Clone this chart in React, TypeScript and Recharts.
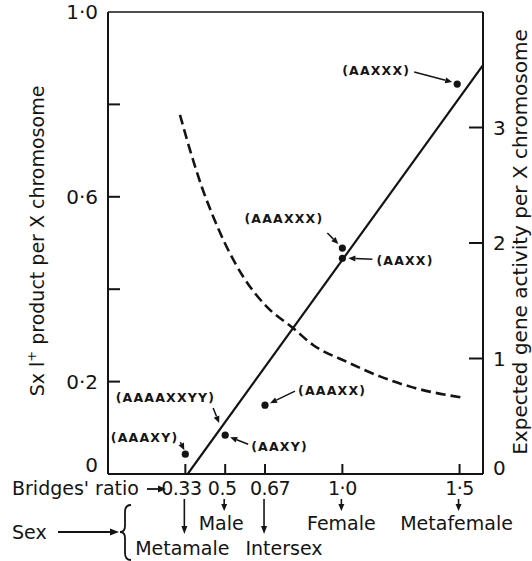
import React from 'react';
import { ComposedChart, Line, Scatter, XAxis, YAxis, ReferenceLine } from 'recharts';

// ---- data ----
const ratioTicks = [0.33, 0.5, 0.67, 1.0, 1.5];
const ratioLabels = ['0.33', '0.5', '0.67', '1·0', '1·5'];
const sexLabels = ['Metamale', 'Male', 'Intersex', 'Female', 'Metafemale'];

const leftTicks = [0, 0.2, 0.4, 0.6, 0.8, 1.0];
const leftTickLabels = ['0', '0·2', '', '0·6', '', '1·0'];
const rightTicks = [0, 1, 2, 3];
const rightTickLabels = ['0', '1', '2', '3'];

const solidRatio = [0.34, 1.6];
const solidProduct = [0, 0.885];

const dashedRatio = [0.307, 0.35, 0.4, 0.449, 0.506, 0.577, 0.677, 0.791, 0.875, 1.02, 1.16, 1.3, 1.515];
const dashedActivity = [3.11, 2.805, 2.487, 2.228, 1.968, 1.708, 1.449, 1.261, 1.117, 0.97, 0.845, 0.75, 0.66];

const genotypes = ['(AAXXX)', '(AAAXXX)', '(AAXX)', '(AAAXX)', '(AAAAXXYY)', '(AAXY)', '(AAAXY)'];
const genotypeRatio = [1.49, 1.0, 1.0, 0.67, 0.47, 0.5, 0.33];
const genotypeProduct = [0.844, 0.489, 0.467, 0.149, 0.106, 0.084, 0.043];

// ---- layout / style ----
const INK = '#141414';
const FONT = '"DejaVu Sans", "Liberation Sans", sans-serif';

type Ann = { anchor: 'start' | 'end'; lx: number; ly: number; tail: [number, number]; head: [number, number]; dot: boolean };
const annLayout: Record<string, Ann> = {
  '(AAXXX)': { anchor: 'end', lx: -47, ly: -14, tail: [-43, -12], head: [-5, -2], dot: true },
  '(AAAXXX)': { anchor: 'end', lx: -19, ly: -30, tail: [-15, -15], head: [-4, -4], dot: true },
  '(AAXX)': { anchor: 'start', lx: 34, ly: 2, tail: [30, 1], head: [6, 0], dot: true },
  '(AAAXX)': { anchor: 'start', lx: 33, ly: -15, tail: [30, -14], head: [5, -2], dot: true },
  '(AAAAXXYY)': { anchor: 'end', lx: -3, ly: -28, tail: [-5, -17], head: [1, -2], dot: false },
  '(AAXY)': { anchor: 'start', lx: 26, ly: 11, tail: [23, 9], head: [5, 2], dot: true },
  '(AAAXY)': { anchor: 'end', lx: -7, ly: -17, tail: [-5, -12], head: [-1, -4], dot: true },
};
const ratioDx = [-4, -3, 5, 0, 0];
const sexDx = [-3, -4, 19, -1, -3];

const solidData = solidRatio.map((r, i) => ({ r, v: solidProduct[i] }));
const dashedData = dashedRatio.map((r, i) => ({ r, a: dashedActivity[i] }));
const pointData = genotypes.map((g, i) => ({ g, r: genotypeRatio[i], v: genotypeProduct[i] }));

const Arrow = ({ x1, y1, x2, y2, head = 7, w = 3, sw = 1.6 }: any) => {
  const dx = x2 - x1;
  const dy = y2 - y1;
  const len = Math.sqrt(dx * dx + dy * dy) || 1;
  const ux = dx / len;
  const uy = dy / len;
  const bx = x2 - ux * head;
  const by = y2 - uy * head;
  const px = -uy * w;
  const py = ux * w;
  return (
    <g>
      <line x1={x1} y1={y1} x2={bx} y2={by} stroke={INK} strokeWidth={sw} />
      <polygon points={`${x2},${y2} ${bx + px},${by + py} ${bx - px},${by - py}`} fill={INK} />
    </g>
  );
};

const RatioTick = (props: any) => {
  const { x, y, payload } = props;
  const i = ratioTicks.indexOf(payload.value);
  if (i < 0) return null;
  const long = i === 0 || i === 2;
  return (
    <g>
      <line x1={x} y1={y} x2={x} y2={y - 10} stroke={INK} strokeWidth={2} />
      <text x={x + ratioDx[i]} y={y + 21} textAnchor="middle" fontSize={19} letterSpacing={-0.5} fontFamily={FONT} fill={INK}>
        {ratioLabels[i]}
      </text>
      <Arrow x1={x - 1} y1={y + 25} x2={x - 1} y2={long ? y + 60 : y + 37} head={long ? 8 : 7} />
      <text x={x + sexDx[i]} y={long ? y + 81 : y + 56} textAnchor="middle" fontSize={19} fontFamily={FONT} fill={INK}>
        {sexLabels[i]}
      </text>
    </g>
  );
};

const LeftTick = (props: any) => {
  const { x, y, payload } = props;
  const i = leftTicks.indexOf(payload.value);
  if (i < 0) return null;
  return (
    <g>
      {payload.value > 0 && payload.value < 1 && (
        <line x1={x} y1={y} x2={x + 12} y2={y} stroke={INK} strokeWidth={2} />
      )}
      <text x={x - 10} y={payload.value === 0 ? y - 2 : y + 7} textAnchor="end" fontSize={20} fontFamily={FONT} fill={INK}>
        {leftTickLabels[i]}
      </text>
    </g>
  );
};

const RightTick = (props: any) => {
  const { x, y, payload } = props;
  const i = rightTicks.indexOf(payload.value);
  if (i < 0) return null;
  return (
    <g>
      {payload.value > 0 && <line x1={x} y1={y} x2={x - 14} y2={y} stroke={INK} strokeWidth={2} />}
      <text x={x + 10} y={payload.value === 0 ? y + 1 : y + 7} textAnchor="start" fontSize={20} fontFamily={FONT} fill={INK}>
        {rightTickLabels[i]}
      </text>
    </g>
  );
};

const AnnotatedPoint = (props: any) => {
  const { cx, cy, payload } = props;
  const L = annLayout[payload.g];
  if (!L) return null;
  return (
    <g>
      {L.dot && <circle cx={cx} cy={cy} r={3.6} fill={INK} />}
      <Arrow x1={cx + L.tail[0]} y1={cy + L.tail[1]} x2={cx + L.head[0]} y2={cy + L.head[1]} head={7} w={3} sw={1.5} />
      <text
        x={cx + L.lx}
        y={cy + L.ly}
        textAnchor={L.anchor}
        dominantBaseline="central"
        fontSize={12.5}
        fontWeight="bold"
        letterSpacing={1.2}
        fontFamily={FONT}
        fill={INK}
      >
        {payload.g}
      </text>
    </g>
  );
};

export default function App() {
  return (
    <div style={{ position: 'absolute', left: 0, top: 0, width: 532, height: 561, background: '#fff' }}>
      <ComposedChart width={532} height={561} margin={{ top: 12, right: 8, bottom: 7, left: 8 }}>
        <XAxis
          type="number"
          dataKey="r"
          domain={[0, 1.6]}
          ticks={ratioTicks}
          interval={0}
          tick={<RatioTick />}
          tickLine={false}
          tickSize={0}
          tickMargin={0}
          height={80}
          axisLine={{ stroke: INK, strokeWidth: 2 }}
          allowDataOverflow
        />
        <YAxis
          yAxisId="left"
          type="number"
          domain={[0, 1]}
          ticks={leftTicks}
          interval={0}
          tick={<LeftTick />}
          tickLine={false}
          tickSize={0}
          tickMargin={0}
          width={100}
          axisLine={{ stroke: INK, strokeWidth: 2 }}
          allowDataOverflow
        />
        <YAxis
          yAxisId="right"
          orientation="right"
          type="number"
          domain={[0, 4]}
          ticks={rightTicks}
          interval={0}
          tick={<RightTick />}
          tickLine={false}
          tickSize={0}
          tickMargin={0}
          width={41}
          axisLine={{ stroke: INK, strokeWidth: 2 }}
          allowDataOverflow
        />
        <ReferenceLine yAxisId="left" y={1} stroke={INK} strokeWidth={1.6} />
        <Line
          yAxisId="right"
          data={dashedData}
          dataKey="a"
          type="monotone"
          stroke={INK}
          strokeWidth={2.6}
          strokeDasharray="10 5"
          dot={false}
          isAnimationActive={false}
        />
        <Line
          yAxisId="left"
          data={solidData}
          dataKey="v"
          type="linear"
          stroke={INK}
          strokeWidth={2.2}
          dot={false}
          isAnimationActive={false}
        />
        <Scatter yAxisId="left" data={pointData} dataKey="v" shape={<AnnotatedPoint />} isAnimationActive={false} />
      </ComposedChart>
      <svg width={532} height={561} style={{ position: 'absolute', left: 0, top: 0, pointerEvents: 'none' }}>
        <text
          transform="translate(44,241) rotate(-90)"
          textAnchor="middle"
          fontSize={19}
          fontFamily={FONT}
          fill={INK}
        >
          <tspan>Sx l</tspan>
          <tspan dy={-8} fontSize={13}>+</tspan>
          <tspan dy={8}> product per X chromosome</tspan>
        </text>
        <text
          transform="translate(527,242) rotate(-90)"
          textAnchor="middle"
          fontSize={20}
          fontFamily={FONT}
          fill={INK}
        >
          Expected gene activity per X chromosome
        </text>
        <text x={12} y={495} fontSize={19} fontFamily={FONT} fill={INK}>
          Bridges' ratio
        </text>
        <Arrow x1={147} y1={489} x2={166} y2={489} head={8} w={3.5} sw={1.8} />
        <text x={12} y={539} fontSize={19} fontFamily={FONT} fill={INK}>
          Sex
        </text>
        <Arrow x1={58} y1={532} x2={119} y2={532} head={9} w={3.5} sw={1.8} />
        <path
          d="M 131 505 Q 125 505 125 512 L 125 526 Q 125 532 120 532 Q 125 532 125 538 L 125 553 Q 125 560 131 560"
          fill="none"
          stroke={INK}
          strokeWidth={1.8}
        />
      </svg>
    </div>
  );
}
